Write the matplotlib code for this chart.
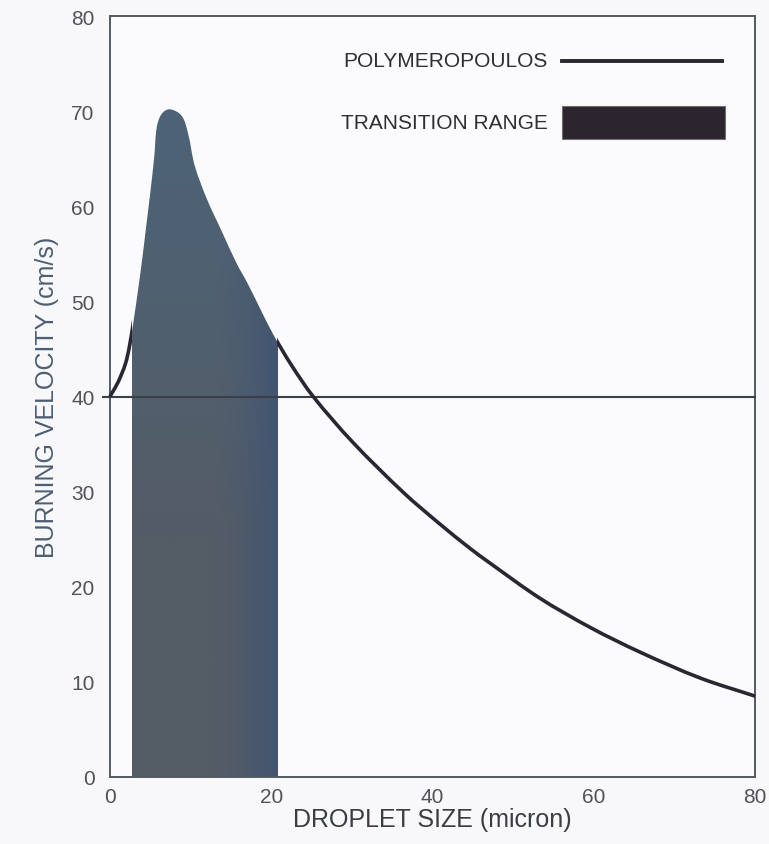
import numpy as np
import matplotlib
matplotlib.use('Agg')
from matplotlib import pyplot as plt
from matplotlib.path import Path
from matplotlib.patches import PathPatch, Rectangle

plt.rcParams['font.family'] = ['Liberation Sans', 'DejaVu Sans']

# Burning velocity curve (droplet size, velocity)
drop_size = [0, 0.2, 1.0, 1.9, 2.4, 2.9, 3.5, 4.05, 4.55, 5.05, 5.5, 5.8, 6.4,
             7.4, 8.9, 9.7, 10.5, 12.0, 13.9, 15.7, 17.0, 20.2, 22.5, 25.2,
             30.1, 36.4, 40.9, 44.7, 47.1, 53.3, 59.6, 65.8, 73.2, 80]
velocity = [40, 40.3, 41.5, 43.4, 45.2, 47.8, 51.3, 54.8, 58.3, 61.8, 65.3,
            68.3, 69.7, 70.2, 69.5, 67.6, 64.3, 60.8, 57.3, 54.0, 52.0, 46.6,
            43.3, 40.0, 35.2, 29.9, 26.6, 24.0, 22.5, 18.8, 15.7, 13.1, 10.4, 8.5]

polymeropoulos = 40.0
transition = (2.7, 20.7)

x_ticks = [0, 20, 40, 60, 80]
y_ticks = [0, 10, 20, 30, 40, 50, 60, 70, 80]

LINE = '#2a2632'
GREY = '#555a60'
Y_ASPECT = 1.18  # px per y unit / px per x unit on this figure


def smooth_path(xs, ys, close_to_zero=False):
    # smooth Bezier through the read points (tangent from neighbours)
    pts = np.column_stack([xs, ys * Y_ASPECT])
    n = len(pts)
    tang = np.zeros_like(pts)
    for i in range(n):
        d = pts[min(i + 1, n - 1)] - pts[max(i - 1, 0)]
        tang[i] = d / np.hypot(*d)
    verts = [pts[0]]
    codes = [Path.MOVETO]
    for i in range(n - 1):
        seg = np.hypot(*(pts[i + 1] - pts[i])) / 3
        verts += [pts[i] + tang[i] * seg, pts[i + 1] - tang[i + 1] * seg, pts[i + 1]]
        codes += [Path.CURVE4] * 3
    verts = np.array(verts)
    verts[:, 1] /= Y_ASPECT
    verts = list(verts)
    if close_to_zero:
        verts += [(xs[-1], 0), (xs[0], 0), verts[0]]
        codes += [Path.LINETO, Path.LINETO, Path.CLOSEPOLY]
    return Path(verts, codes)


fig = plt.figure(figsize=(7.69, 8.45), dpi=100, facecolor='#f8f8fb')
ax = fig.add_axes([0.143, 0.0793, 0.839, 0.9005])
ax.set_facecolor('#fbfbfd')
ax.set_xlim(0, 80)
ax.set_ylim(0, 80)

xs = np.array(drop_size, dtype=float)
ys = np.array(velocity, dtype=float)
curve = smooth_path(xs, ys)
area = smooth_path(xs, ys, close_to_zero=True)

# gradient fill for transition range, clipped to the area under the curve
ny, nx = 120, 80
vert = np.linspace(0, 1, ny)[:, None, None]
horiz = np.linspace(0, 1, nx)[None, :, None]
bottom_c = np.array([0x54, 0x5c, 0x66]) / 255
top_c = np.array([0x4d, 0x63, 0x77]) / 255
blue_c = np.array([0x43, 0x55, 0x72]) / 255
mix = np.clip((vert - 0.35) / 0.6, 0, 1)
grad = bottom_c * (1 - mix) + top_c * mix
edge = np.clip((horiz - 0.55) / 0.45, 0, 1) ** 1.5
grad = grad * (1 - edge) + blue_c * edge
grad = np.broadcast_to(grad, (ny, nx, 3)).copy()
im = ax.imshow(grad, extent=[transition[0], transition[1], 0, 72], origin='lower',
               aspect='auto', zorder=2, interpolation='bilinear')
im.set_clip_path(PathPatch(area, transform=ax.transData))

ax.plot([-0.9, 80], [polymeropoulos, polymeropoulos], color='#3a3f48', lw=1.5,
        clip_on=False, zorder=3)

# curve drawn outside the shaded range only
for lo, hi in [(-1, transition[0]), (transition[1], 81)]:
    line = PathPatch(curve, facecolor='none', edgecolor=LINE, lw=2.6, zorder=4,
                     transform=ax.transData)
    ax.add_patch(line)
    line.set_clip_path(Rectangle((lo, -5), hi - lo, 90, transform=ax.transData))

# legend drawn by hand
ax.text(54.3, 75.3, 'POLYMEROPOULOS', ha='right', va='center', fontsize=15,
        color='#2e2e33')
ax.plot([56.1, 75.9], [75.3, 75.3], color=LINE, lw=2.8)
ax.text(54.3, 68.8, 'TRANSITION RANGE', ha='right', va='center', fontsize=15,
        color='#2e2e33')
ax.add_patch(Rectangle((56.1, 67.1), 20.2, 3.4, facecolor='#2b2530',
                       edgecolor='#707074', lw=0.8, zorder=5))

for s in ax.spines.values():
    s.set_color(GREY)
    s.set_linewidth(1.4)

ax.set_xticks(x_ticks)
ax.set_yticks(y_ticks)
ax.tick_params(length=0, labelsize=15, labelcolor='#505358')
ax.tick_params(axis='x', pad=7)
ax.tick_params(axis='y', pad=11)

ax.set_xlabel('DROPLET SIZE (micron)', fontsize=18, color='#3a3d42', labelpad=1)
ax.set_ylabel('BURNING VELOCITY (cm/s)', fontsize=18, color='#4d5e72', labelpad=9)

fig.savefig('out.png', dpi=100, facecolor=fig.get_facecolor())
